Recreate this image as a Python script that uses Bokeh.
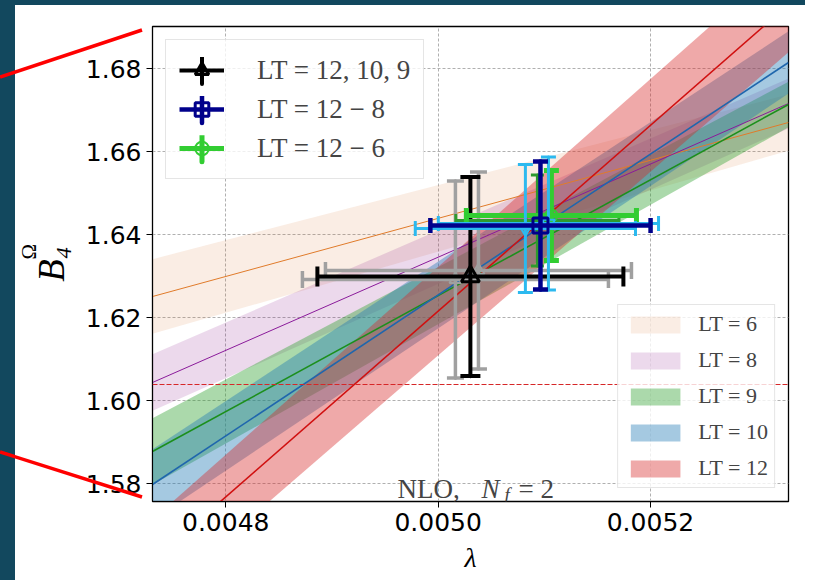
from math import pi
from bokeh.plotting import figure
from bokeh.models import (ColumnDataSource, Legend, LegendItem, Label, FixedTicker, Div,
                          PrintfTickFormatter, Range1d, Spacer, Span, Title)
from bokeh.layouts import row, column
from bokeh.embed import file_html
from bokeh.resources import INLINE

# ---------------- data ----------------
x_ticks = [0.0048, 0.0050, 0.0052]
y_ticks = [1.58, 1.60, 1.62, 1.64, 1.66, 1.68]
x_limits = (0.004731, 0.00533)
y_limits = (1.57574, 1.69019)

# fit bands (value at left / right end of the lambda window)
fit_x = [0.004731, 0.00533]
lt_names = ["LT = 6", "LT = 8", "LT = 9", "LT = 10", "LT = 12"]
lt6_center = [1.62513, 1.66706]
lt6_halfwidth = [0.0090, 0.0068]
lt8_center = [1.60441, 1.67164]
lt8_halfwidth = [0.0068, 0.0060]
lt9_center = [1.58778, 1.67140]
lt9_halfwidth = [0.0080, 0.0055]
lt10_center = [1.57983, 1.68152]
lt10_halfwidth = [0.0085, 0.0075]
lt12_center = [1.56140, 1.69546]
lt12_halfwidth = [0.0100, 0.0115]
ref_level = 1.60393

# combined estimates
comb_names = ["LT = 12, 10, 9", "LT = 12 \u2212 8", "LT = 12 \u2212 6"]
comb_x = [0.0050304, 0.0050964, 0.0051067]
comb_y = [1.62995, 1.64224, 1.64465]
comb_xerr = [0.0001441, 0.0001037, 0.0000801]
comb_yerr = [0.02398, 0.01542, 0.01084]

# variations of the estimates (gray, light blue, dark green)
var_x = [0.0050163, 0.0050380, 0.0050822, 0.0051039, 0.0050935]
var_y = [1.62923, 1.63140, 1.64152, 1.64272, 1.64345]
var_xerr = [0.0001441, 0.0001441, 0.0001037, 0.0001037, 0.0000768]
var_yerr = [0.02374, 0.02374, 0.01542, 0.01602, 0.01097]

# ---------------- figure ----------------
serif = "Liberation Serif"
teal = "#12485e"

p = figure(width=790, height=575, x_range=Range1d(*x_limits), y_range=Range1d(*y_limits),
           output_backend="svg", toolbar_location=None,
           min_border_left=137, min_border_right=17, min_border_top=21, min_border_bottom=79)
p.background_fill_color = "white"
p.border_fill_color = "white"
p.outline_line_color = "black"
p.outline_line_width = 1.3

for ax, ticks, fmt in ((p.xaxis, x_ticks, "%.4f"), (p.yaxis, y_ticks, "%.2f")):
    ax.ticker = FixedTicker(ticks=ticks)
    ax.formatter = PrintfTickFormatter(format=fmt)
    ax.major_label_text_font = "DejaVu Sans"
    ax.major_label_text_font_size = "25px"
    ax.major_label_text_color = "black"
    ax.major_tick_out = 6
    ax.major_tick_in = 0
    ax.minor_tick_out = 0
    ax.minor_tick_in = 0
    ax.major_tick_line_color = "black"
    ax.axis_line_color = "black"
    ax.major_label_standoff = 5
    ax.axis_label_text_font = serif
    ax.axis_label_text_font_style = "italic"
    ax.axis_label_text_color = "black"

p.xaxis.axis_label = "\u03bb"
p.xaxis.axis_label_text_font_size = "28px"
p.xaxis.axis_label_standoff = 8
p.yaxis.axis_label = "B\u2084"
p.yaxis.axis_label_text_font_size = "37px"
p.yaxis.axis_label_standoff = 11
p.add_layout(Title(text="\u03a9", align="left", offset=242, standoff=-26,
                   vertical_align="bottom", text_font=serif, text_font_size="21px",
                   text_font_style="normal", text_color="black"), "left")

p.xgrid.ticker = FixedTicker(ticks=x_ticks)
p.ygrid.ticker = FixedTicker(ticks=y_ticks)
for g in (p.xgrid, p.ygrid):
    g.grid_line_color = "#b0b0b0"
    g.grid_line_dash = "3 2"
    g.grid_line_width = 1

# bands
band_specs = [
    (lt6_center, lt6_halfwidth, "#d2691e", 0.12, "#e07b2a", 1.0),
    (lt8_center, lt8_halfwidth, "purple", 0.15, "#8a1a9a", 1.0),
    (lt9_center, lt9_halfwidth, "#2ca02c", 0.4, "#1c8f1c", 1.6),
    (lt10_center, lt10_halfwidth, "#1f77b4", 0.4, "#1f66ad", 1.6),
    (lt12_center, lt12_halfwidth, "#d62728", 0.4, "#d01010", 1.6),
]
band_items = []
for name, (c, hw, fc, fa, lc, lw) in zip(lt_names, band_specs):
    src = ColumnDataSource(dict(x=fit_x, mid=c,
                                lo=[a - b for a, b in zip(c, hw)],
                                hi=[a + b for a, b in zip(c, hw)]))
    r = p.varea(x="x", y1="lo", y2="hi", source=src, fill_color=fc, fill_alpha=fa)
    band_items.append((name, r, src, lc, lw))
for name, r, src, lc, lw in band_items:
    p.line(x="x", y="mid", source=src, line_color=lc, line_width=lw)

p.add_layout(Span(location=ref_level, dimension="width", line_color="#d62728",
                  line_dash="5 2", line_width=1.2))


def errbar(x, y, xe, ye, color, lw, cap, marker, msize, mlw):
    src = ColumnDataSource(dict(x=[x], y=[y], xlo=[x - xe], xhi=[x + xe],
                                ylo=[y - ye], yhi=[y + ye], h2=[2 * ye]))
    h = p.segment(x0="xlo", y0="y", x1="xhi", y1="y", source=src, line_color=color, line_width=lw)
    # vertical error bar as a zero-width ellipse (so that the legend shows it upright)
    v = p.ellipse(x="x", y="y", width=0.01, height="h2", width_units="screen", source=src,
                  fill_color=None, line_color=color, line_width=lw)
    hc = p.scatter(x=[x - xe, x + xe], y=[y, y], marker="dash", angle=pi / 2, size=cap,
                   line_color=color, line_width=lw)
    p.scatter(x=[x, x], y=[y - ye, y + ye], marker="dash", size=cap,
              line_color=color, line_width=lw)
    m = p.scatter(x="x", y="y", source=src, marker=marker, size=msize, line_color=color,
                  fill_color=None, line_width=mlw)
    return [h, v, m]


grey = "#a0a0a0"
sky = "#2cb9ef"
dgreen = "#2e9a2e"
errbar(var_x[0], var_y[0], var_xerr[0], var_yerr[0], grey, 3.5, 17, "triangle", 12, 2)
errbar(var_x[1], var_y[1], var_xerr[1], var_yerr[1], grey, 3.5, 17, "triangle", 12, 2)
r_black = errbar(comb_x[0], comb_y[0], comb_xerr[0], comb_yerr[0], "black", 4, 20, "triangle", 18, 3)
errbar(var_x[4], var_y[4], var_xerr[4], var_yerr[4], dgreen, 3, 13, "circle", 8, 1.5)
r_lime = errbar(comb_x[2], comb_y[2], comb_xerr[2], comb_yerr[2], "#32cd32", 5, 15, "circle", 12, 2)
errbar(var_x[2], var_y[2], var_xerr[2], var_yerr[2], sky, 3, 15, "inverted_triangle", 13, 2)
errbar(var_x[3], var_y[3], var_xerr[3], var_yerr[3], sky, 3, 15, "inverted_triangle", 13, 2)
r_navy = errbar(comb_x[1], comb_y[1], comb_xerr[1], comb_yerr[1], "#00008b", 4.5, 15, "square", 15, 3)

# legends
leg1 = Legend(items=[LegendItem(label=comb_names[0], renderers=r_black),
                     LegendItem(label=comb_names[1], renderers=r_navy),
                     LegendItem(label=comb_names[2], renderers=r_lime)],
              location="top_left", margin=13, padding=13, spacing=5,
              glyph_width=45, glyph_height=34, label_height=34, label_standoff=33,
              label_text_font=serif, label_text_font_size="27px",
              background_fill_alpha=0.8, border_line_color="#cccccc", border_line_width=1)
leg2 = Legend(items=[LegendItem(label=n, renderers=[r]) for n, r, _, _, _ in band_items],
              location="bottom_right", margin=13, padding=6, spacing=10,
              glyph_width=62, glyph_height=21, label_height=26, label_standoff=12,
              label_text_font=serif, label_text_font_size="22px",
              background_fill_alpha=0.8, border_line_color="#cccccc", border_line_width=1)
p.add_layout(leg1)
p.add_layout(leg2)

# annotation text
p.add_layout(Label(x=245, y=13, x_units="screen", y_units="screen", text="NLO,",
                   text_font=serif, text_font_size="27px", text_baseline="alphabetic"))
p.add_layout(Label(x=329, y=13, x_units="screen", y_units="screen", text="N",
                   text_font=serif, text_font_style="italic", text_font_size="27px",
                   text_baseline="alphabetic"))
p.add_layout(Label(x=352, y=7, x_units="screen", y_units="screen", text="f",
                   text_font=serif, text_font_style="italic", text_font_size="19px",
                   text_baseline="alphabetic"))
p.add_layout(Label(x=366, y=13, x_units="screen", y_units="screen", text="= 2",
                   text_font=serif, text_font_size="27px", text_baseline="alphabetic"))

# slide decoration: teal margins and the red zoom lines
zoom_svg = ('<svg xmlns="http://www.w3.org/2000/svg" width="160" height="575" '
            'style="position:absolute;left:0;top:0;overflow:visible;pointer-events:none">'
            '<line x1="0" y1="72" x2="142" y2="25" stroke="#ff0000" stroke-width="3.5"/>'
            '<line x1="0" y1="447" x2="142" y2="492" stroke="#ff0000" stroke-width="3.5"/>'
            '</svg>')
side = Div(text=zoom_svg, width=15, height=575, margin=0,
           styles={"background-color": teal, "overflow": "visible", "z-index": "10",
                   "position": "relative"},
           stylesheets=[":host { overflow: visible !important; z-index: 10 !important; }"
                        " div { overflow: visible !important; }"])

page = column(Spacer(width=805, height=5, styles={"background-color": teal}),
              row(side, p))

open("out.html", "w").write(file_html(page, INLINE))
